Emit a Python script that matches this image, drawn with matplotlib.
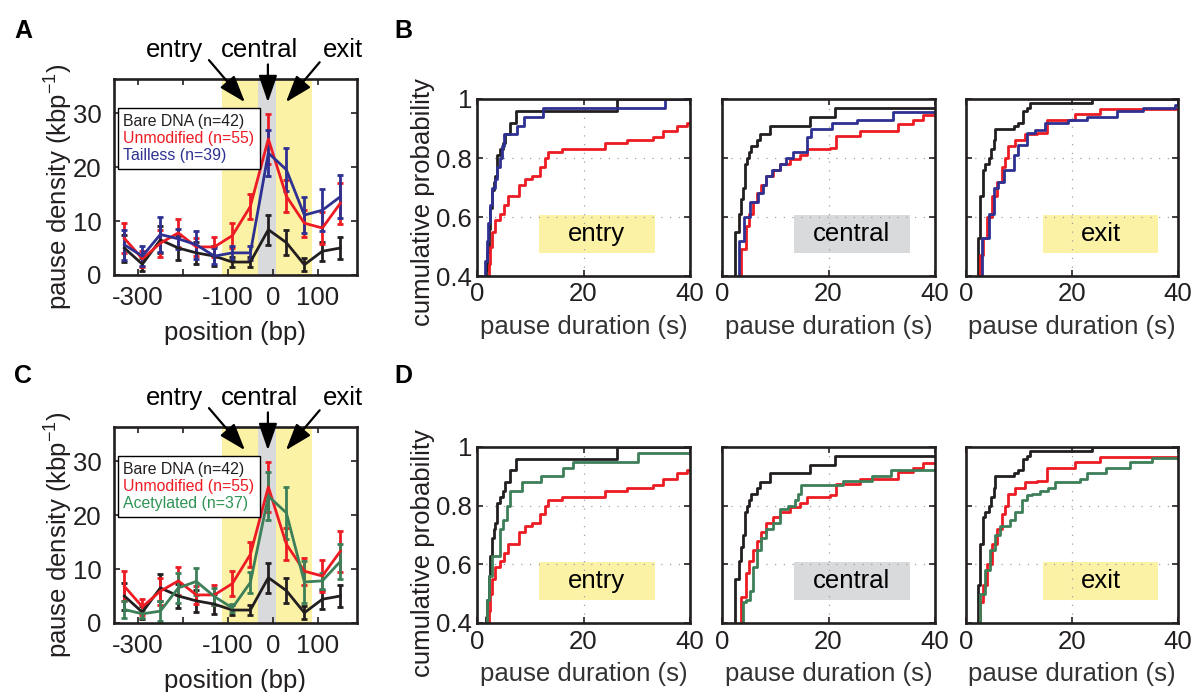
import numpy as np
import matplotlib
matplotlib.use('Agg')
import matplotlib.pyplot as plt
from matplotlib.patches import Rectangle
from matplotlib.lines import Line2D

plt.rcParams['font.family'] = ['Liberation Sans', 'DejaVu Sans']
plt.rcParams['axes.unicode_minus'] = False
plt.rcParams['mathtext.default'] = 'regular'

# ---- pause density vs position (panels A and C) ----
position = [-330, -290, -250, -210, -170, -130, -90, -50, -10, 30, 70, 110, 150]

bare_density = [5.0, 2.0, 6.5, 5.0, 4.1, 3.5, 2.4, 2.4, 8.4, 6.0, 1.9, 4.4, 5.0]
bare_err = [2.5, 1.2, 2.5, 2.2, 2.0, 1.8, 1.0, 1.0, 2.8, 2.3, 1.2, 1.8, 2.0]

unmod_density = [6.8, 3.0, 5.9, 7.8, 5.2, 5.2, 7.3, 12.7, 25.2, 14.6, 9.6, 8.7, 13.3]
unmod_err = [2.8, 1.5, 2.5, 2.6, 1.7, 1.9, 2.3, 2.3, 4.6, 3.0, 2.5, 3.0, 3.8]

tailless_density = [5.6, 3.5, 7.5, 6.7, 5.6, 3.5, 4.1, 4.1, 22.6, 19.5, 11.1, 12.0, 14.5]
tailless_err = [2.8, 1.8, 3.3, 1.9, 2.6, 1.5, 1.3, 1.3, 4.2, 4.0, 3.4, 3.9, 4.0]

acetyl_density = [2.5, 1.7, 2.2, 6.5, 7.7, 4.9, 2.8, 7.5, 23.5, 20.4, 7.6, 7.8, 11.4]
acetyl_err = [1.5, 0.8, 1.8, 2.8, 2.5, 1.5, 0.8, 2.0, 4.5, 4.8, 3.9, 1.5, 3.2]

# ---- cumulative pause duration distributions (panels B and D) ----
# entry
bare_entry_t = [1.5, 1.6, 1.9, 2.2, 2.5, 2.8, 3.1, 3.4, 3.8, 4.4, 4.8, 5.3, 6.2, 7.4, 26.3]
bare_entry_p = [0.30, 0.42, 0.48, 0.56, 0.63, 0.69, 0.72, 0.74, 0.81, 0.83, 0.85, 0.88, 0.92, 0.96, 1.00]
unmod_entry_t = [2.0, 2.2, 2.5, 2.9, 3.3, 4.4, 5.0, 5.9, 7.8, 9.1, 10.3, 11.9, 12.8, 13.4, 15.9,
                 24.1, 28.1, 33.1, 35.0, 37.5, 39.4]
unmod_entry_p = [0.35, 0.44, 0.50, 0.55, 0.59, 0.61, 0.64, 0.67, 0.71, 0.73, 0.74, 0.77, 0.80, 0.82, 0.83,
                 0.85, 0.86, 0.87, 0.89, 0.91, 0.92]
tailless_entry_t = [1.3, 1.5, 1.8, 2.1, 2.5, 2.8, 3.3, 3.7, 4.4, 4.7, 5.1, 7.6, 8.8, 12.4, 35.3]
tailless_entry_p = [0.35, 0.45, 0.52, 0.58, 0.64, 0.70, 0.73, 0.77, 0.80, 0.84, 0.88, 0.91, 0.94, 0.97, 1.00]
acetyl_entry_t = [1.7, 1.9, 2.2, 2.8, 4.4, 4.9, 5.6, 6.2, 8.4, 12.1, 16.2, 18.0, 30.2]
acetyl_entry_p = [0.35, 0.48, 0.56, 0.63, 0.72, 0.75, 0.80, 0.85, 0.88, 0.90, 0.93, 0.95, 0.98]

# central
bare_central_t = [2.1, 2.4, 3.2, 3.6, 3.9, 4.3, 4.7, 5.1, 5.5, 6.5, 7.1, 9.0, 16.6, 21.3]
bare_central_p = [0.35, 0.55, 0.61, 0.66, 0.70, 0.78, 0.80, 0.82, 0.84, 0.86, 0.88, 0.91, 0.94, 0.97]
unmod_central_t = [3.2, 3.6, 4.6, 5.1, 5.8, 6.5, 7.4, 8.3, 9.6, 10.8, 12.7, 14.6, 15.9, 20.2, 21.5,
                   25.9, 33.1, 35.9, 37.8]
unmod_central_p = [0.35, 0.49, 0.57, 0.61, 0.65, 0.68, 0.71, 0.74, 0.76, 0.78, 0.795, 0.81, 0.83, 0.835, 0.875,
                   0.89, 0.915, 0.93, 0.945]
tailless_central_t = [3.0, 3.1, 4.1, 5.2, 6.8, 7.7, 8.3, 9.3, 10.8, 12.1, 13.3, 15.9, 16.8, 20.6, 25.3, 32.2]
tailless_central_p = [0.35, 0.52, 0.60, 0.65, 0.68, 0.71, 0.74, 0.76, 0.78, 0.80, 0.82, 0.87, 0.90, 0.92, 0.93, 0.955]
acetyl_central_t = [3.4, 3.9, 4.6, 5.2, 5.8, 6.5, 7.4, 8.3, 9.6, 10.8, 12.4, 13.7, 14.3, 14.9, 22.8, 28.1, 31.8]
acetyl_central_p = [0.35, 0.47, 0.48, 0.51, 0.59, 0.65, 0.69, 0.72, 0.74, 0.79, 0.80, 0.82, 0.84, 0.87, 0.885, 0.90, 0.92]

# exit
bare_exit_t = [1.9, 2.2, 2.7, 3.2, 3.6, 4.3, 4.7, 5.2, 5.5, 9.0, 9.9, 10.8, 11.5, 12.1, 23.7]
bare_exit_p = [0.35, 0.53, 0.67, 0.76, 0.78, 0.80, 0.83, 0.86, 0.90, 0.91, 0.92, 0.96, 0.97, 0.985, 1.00]
unmod_exit_t = [2.4, 2.7, 3.3, 3.9, 4.9, 5.8, 6.8, 7.4, 8.0, 9.3, 11.2, 13.4, 15.2, 20.6, 25.3]
unmod_exit_p = [0.35, 0.47, 0.53, 0.60, 0.67, 0.72, 0.77, 0.80, 0.84, 0.86, 0.88, 0.885, 0.93, 0.95, 0.965]
tailless_exit_t = [2.5, 3.0, 4.3, 5.2, 6.1, 7.1, 9.0, 9.9, 11.5, 13.0, 14.9, 19.3, 22.8, 28.4, 33.4, 39.4]
tailless_exit_p = [0.35, 0.53, 0.61, 0.70, 0.72, 0.76, 0.81, 0.845, 0.885, 0.895, 0.92, 0.93, 0.94, 0.958, 0.97, 0.98]
acetyl_exit_t = [2.3, 2.7, 3.6, 4.6, 5.5, 6.5, 8.3, 9.3, 10.5, 11.5, 12.4, 14.0, 15.5, 16.8, 21.5, 22.8,
                 26.5, 30.9, 35.0]
acetyl_exit_p = [0.35, 0.50, 0.58, 0.65, 0.70, 0.73, 0.75, 0.78, 0.82, 0.835, 0.84, 0.85, 0.86, 0.88, 0.89, 0.91,
                 0.93, 0.95, 0.962]

BLACK = '#231f20'
RED = '#ed1c24'
BLUE = '#2e3192'
GREEN = '#3d7f58'
GREEN_TXT = '#2f9455'
YELLOW = '#fcf2a6'
GRAY = '#d9dadc'
FS = 18.5
LW = 2.0

W, H = 1194, 692
fig = plt.figure(figsize=(W / 100, H / 100), dpi=100)


def px_axes(l, t, r, b):
    # place an axes from pixel edges of the target picture
    return fig.add_axes([l / W, 1 - b / H, (r - l) / W, (b - t) / H])


def style_axes(ax):
    for s in ax.spines.values():
        s.set_linewidth(1.9)
        s.set_color(BLACK)
    ax.tick_params(direction='in', top=True, right=True, length=4, width=1.2,
                   labelsize=FS, colors=BLACK)


def density_panel(ax, third_y, third_err, third_color, legend_labels, legend_colors):
    ax.axvspan(-112, -32, color=YELLOW, lw=0, zorder=0)
    ax.axvspan(-32, 8, color=GRAY, lw=0, zorder=0)
    ax.axvspan(8, 88, color=YELLOW, lw=0, zorder=0)
    for y, e, c in [(bare_density, bare_err, BLACK), (unmod_density, unmod_err, RED),
                    (third_y, third_err, third_color)]:
        ax.errorbar(position, y, yerr=e, color=c, lw=LW, elinewidth=LW,
                    capsize=2.4, capthick=LW)
    ax.set_xlim(-353, 187)
    ax.set_ylim(0, 36.3)
    ax.set_xticks([-300, -200, -100, 0, 100])
    ax.set_xticklabels(['-300', '', '-100', '0', '100'])
    ax.set_yticks([0, 10, 20, 30])
    style_axes(ax)
    ax.tick_params(axis='y', pad=9)
    ax.tick_params(axis='x', pad=8)
    ax.set_ylabel('pause density (kbp$^{-1}$)', fontsize=FS, color=BLACK, va='center')
    ax.yaxis.set_label_coords(-0.226, 0.449)
    ax.set_xlabel('position (bp)', fontsize=FS, color=BLACK, va='center')
    ax.xaxis.set_label_coords(0.5, -0.295)

    handles = [Line2D([], [], linestyle='none') for _ in legend_labels]
    leg = ax.legend(handles, legend_labels, loc='upper left', bbox_to_anchor=(0.016, 0.852),
                    borderaxespad=0, handlelength=0, handletextpad=0, fontsize=11.4,
                    fancybox=False, edgecolor='k', framealpha=1, labelspacing=0.15,
                    borderpad=0.35)
    leg.get_frame().set_linewidth(1.0)
    for t, c in zip(leg.get_texts(), legend_colors):
        t.set_color(c)

    # region labels with arrows
    for name, tx, tip, tail in [('entry', -218, (-62, 32), (-142, 39.8)),
                                ('central', -29, (-11, 32), (-11, 39.0)),
                                ('exit', 156, (29, 32), (104, 39.4))]:
        ax.annotate('', xy=tip, xytext=tail, annotation_clip=False,
                    arrowprops=dict(arrowstyle='-|>,head_length=1.1,head_width=0.38',
                                    mutation_scale=15, color='k', lw=1.6,
                                    shrinkA=0, shrinkB=0))
        ax.text(tx, 40.4, name, ha='center', va='baseline', fontsize=FS, color='k',
                clip_on=False)


def cdf_panel(ax, curves, name, box_color, box_x, first, pad_x):
    for t, p, c in curves:
        ax.step(np.append(t, 40), np.append(p, p[-1]), where='post', color=c, lw=LW)
    ax.set_xlim(0, 40)
    ax.set_ylim(0.4, 1.0)
    ax.set_xticks([0, 20, 40])
    ax.set_yticks([0.4, 0.6, 0.8, 1.0])
    ax.grid(True, color='#a0a0a0', lw=0.9, ls=(0, (1, 6)))
    style_axes(ax)
    ax.tick_params(axis='x', pad=pad_x)
    ax.tick_params(axis='y', pad=3.5)
    ax.add_patch(Rectangle((box_x, 0.477), 21.8, 0.13, color=box_color, lw=0, zorder=1))
    ax.text(box_x + 10.9, 0.542, name, ha='center', va='center', fontsize=FS, color='k')
    if first:
        ax.set_yticklabels(['0.4', '0.6', '0.8', '1'])
        ax.set_ylabel('cumulative probability', fontsize=FS, color=BLACK, va='center')
    else:
        ax.set_yticklabels([])
    ax.set_xlabel('pause duration (s)', fontsize=FS, color='#333333', va='center')
    ax.xaxis.set_label_coords(0.5, -0.288)


# panel A
axA = px_axes(114, 79, 357, 275)
density_panel(axA, tailless_density, tailless_err, BLUE,
              ['Bare DNA (n=42)', 'Unmodified (n=55)', 'Tailless (n=39)'], [BLACK, RED, BLUE])

# panel C
axC = px_axes(114, 427, 357, 623)
density_panel(axC, acetyl_density, acetyl_err, GREEN,
              ['Bare DNA (n=42)', 'Unmodified (n=55)', 'Acetylated (n=37)'], [BLACK, RED, GREEN_TXT])

# panels B and D
cols = [(477, 690), (722, 935), (966, 1178)]
names = ['entry', 'central', 'exit']
box_colors = [YELLOW, GRAY, YELLOW]
box_xs = [11.6, 13.5, 14.5]
b_sets = [
    [(bare_entry_t, bare_entry_p, BLACK), (unmod_entry_t, unmod_entry_p, RED),
     (tailless_entry_t, tailless_entry_p, BLUE)],
    [(bare_central_t, bare_central_p, BLACK), (unmod_central_t, unmod_central_p, RED),
     (tailless_central_t, tailless_central_p, BLUE)],
    [(bare_exit_t, bare_exit_p, BLACK), (unmod_exit_t, unmod_exit_p, RED),
     (tailless_exit_t, tailless_exit_p, BLUE)],
]
d_sets = [
    [(bare_entry_t, bare_entry_p, BLACK), (unmod_entry_t, unmod_entry_p, RED),
     (acetyl_entry_t, acetyl_entry_p, GREEN)],
    [(bare_central_t, bare_central_p, BLACK), (unmod_central_t, unmod_central_p, RED),
     (acetyl_central_t, acetyl_central_p, GREEN)],
    [(bare_exit_t, bare_exit_p, BLACK), (unmod_exit_t, unmod_exit_p, RED),
     (acetyl_exit_t, acetyl_exit_p, GREEN)],
]
for i, (l, r) in enumerate(cols):
    axB = px_axes(l, 99, r, 276)
    cdf_panel(axB, b_sets[i], names[i], box_colors[i], box_xs[i], i == 0, 4)
    if i == 0:
        axB.yaxis.set_label_coords(-0.254, 0.418)
    axD = px_axes(l, 447, r, 623)
    cdf_panel(axD, d_sets[i], names[i], box_colors[i], box_xs[i], i == 0, 5)
    if i == 0:
        axD.yaxis.set_label_coords(-0.254, 0.398)

# panel letters
for letter, x, y in [('A', 23, 31), ('B', 403, 31), ('C', 23, 376), ('D', 403, 376)]:
    fig.text(x / W, 1 - y / H, letter, fontsize=18, fontweight='bold', ha='center', va='center')

fig.savefig('out.png', dpi=100)
